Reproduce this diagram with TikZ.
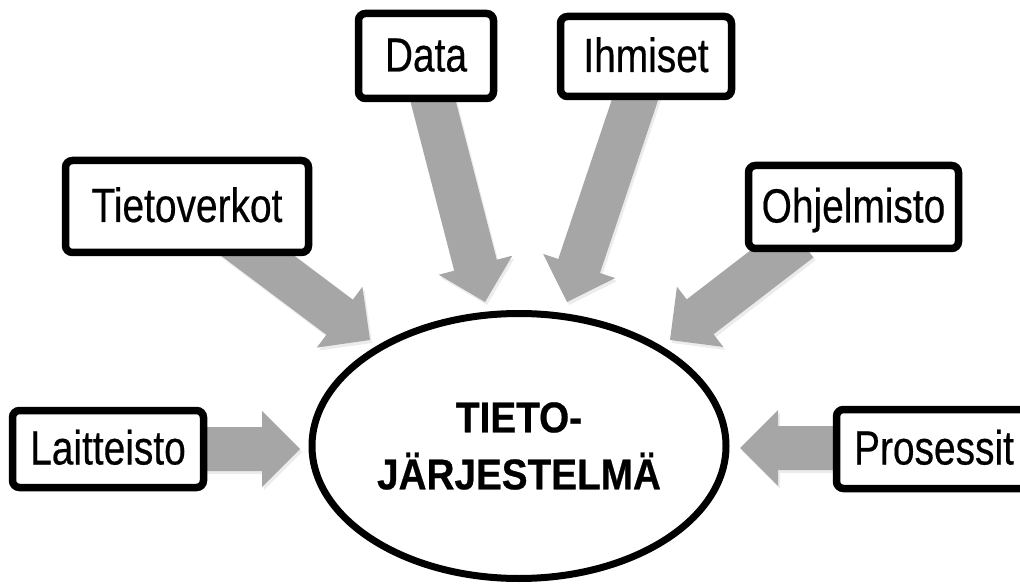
\documentclass[tikz,border=0pt]{standalone}
\usepackage{fontspec}
\setmainfont{Liberation Sans}
\newfontfamily\boxfont{Liberation Sans}[FakeStretch=0.81, FakeBold=0.4]
\newfontfamily\titlefont{Liberation Sans}[FakeStretch=0.9, FakeBold=0.6]
\usetikzlibrary{calc,shapes.geometric,shadows}
\definecolor{arrowgray}{RGB}{166,166,166}
% #1 = start coordinate, #2 = tip coordinate
\newcommand\blockarrow[2]{%
  \fill[arrowfill] (#2)
    -- ($(#2)!38pt!(#1)!38pt!90:(#2)$)
    -- ($(#2)!38pt!(#1)!22pt!90:(#2)$)
    -- ($(#1)!22pt!90:(#2)$)
    -- ($(#1)!22pt!-90:(#2)$)
    -- ($(#2)!38pt!(#1)!22pt!-90:(#2)$)
    -- ($(#2)!38pt!(#1)!38pt!-90:(#2)$)
    -- cycle;}
\tikzset{
  infobox/.style={draw=black, line width=7.5pt, rounded corners=7pt, fill=white,
    inner sep=0pt, text height=34pt, text depth=3pt,
    font=\boxfont\fontsize{48}{48}\selectfont,
    drop shadow={opacity=0.22, shadow xshift=2pt, shadow yshift=-3pt}},
  arrowfill/.style={fill=arrowgray,
    drop shadow={opacity=0.15, shadow xshift=2pt, shadow yshift=-3pt}},
  sysellipse/.style={ellipse, draw=black, line width=7pt, fill=white, inner sep=0pt,
    align=center, font=\titlefont\bfseries\fontsize{43}{57}\selectfont}
}
\begin{document}
\begin{tikzpicture}[x=1pt,y=-1pt]
\useasboundingbox (0,0) rectangle (1020,585);
% arrow end points
\coordinate (lait-s) at (150,449);  \coordinate (lait-t) at (300,449);
\coordinate (tv-s)   at (226,232);  \coordinate (tv-t)   at (370,340);
\coordinate (data-s) at (425,70);   \coordinate (data-t) at (485,302);
\coordinate (ihm-s)  at (645,70);   \coordinate (ihm-t)  at (567,302);
\coordinate (ohj-s)  at (800,240);  \coordinate (ohj-t)  at (670,340);
\coordinate (pros-s) at (880,448);  \coordinate (pros-t) at (740,448);
% arrows (behind boxes)
\blockarrow{lait-s}{lait-t}
\blockarrow{tv-s}{tv-t}
\blockarrow{data-s}{data-t}
\blockarrow{ihm-s}{ihm-t}
\blockarrow{ohj-s}{ohj-t}
\blockarrow{pros-s}{pros-t}
% boxes
\node[infobox, minimum width=191pt, minimum height=77pt] (lait) at (108,449) {Laitteisto};
\node[infobox, minimum width=243pt, minimum height=92pt] (tv)   at (187,206.5) {Tietoverkot};
\node[infobox, minimum width=135pt, minimum height=85pt] (data) at (426,56) {Data};
\node[infobox, minimum width=171pt, minimum height=80pt] (ihm)  at (646,56.5) {Ihmiset};
\node[infobox, minimum width=210pt, minimum height=83pt] (ohj)  at (853.5,207) {Ohjelmisto};
\node[infobox, minimum width=195pt, minimum height=79pt] (pros) at (934,449) {Prosessit};
% centre
\node[sysellipse, minimum width=414pt, minimum height=265pt] (sys) at (519,446) {TIETO-\\JÄRJESTELMÄ};
\end{tikzpicture}
\end{document}
